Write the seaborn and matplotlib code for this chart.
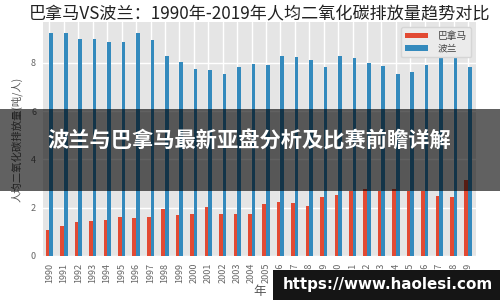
import matplotlib
matplotlib.use("Agg")
import matplotlib.pyplot as plt
import seaborn as sns
import pandas as pd
from matplotlib.patches import Rectangle

years = ["1990", "1991", "1992", "1993", "1994", "1995", "1996", "1997", "1998", "1999",
         "2000", "2001", "2002", "2003", "2004", "2005", "2006", "2007", "2008", "2009",
         "2010", "2011", "2012", "2013", "2014", "2015", "2016", "2017", "2018", "2019"]
panama = [1.09, 1.24, 1.42, 1.45, 1.50, 1.60, 1.58, 1.63, 1.96, 1.68,
          1.74, 2.02, 1.72, 1.72, 1.72, 2.16, 2.23, 2.18, 2.08, 2.44,
          2.54, 2.70, 2.79, 2.68, 2.77, 2.71, 2.68, 2.48, 2.43, 3.16]
poland = [9.23, 9.23, 9.00, 8.98, 8.86, 8.86, 9.25, 8.96, 8.27, 8.03,
          7.76, 7.71, 7.56, 7.84, 7.95, 7.93, 8.27, 8.25, 8.13, 7.83,
          8.29, 8.20, 8.00, 7.88, 7.55, 7.63, 7.93, 8.28, 8.27, 7.81]
countries = ["巴拿马", "波兰"]
title = "巴拿马VS波兰：1990年-2019年人均二氧化碳排放量趋势对比"
banner = "波兰与巴拿马最新亚盘分析及比赛前瞻详解"
watermark = "https://www.haolesi.com"

df = pd.DataFrame({
    "年": years + years,
    "value": panama + poland,
    "country": [countries[0]] * len(years) + [countries[1]] * len(years),
})

sns.set_style("darkgrid", {"axes.facecolor": "#E5E5E5", "grid.color": "white"})
plt.rcParams["font.family"] = ["Noto Sans CJK SC", "DejaVu Sans"]

fig = plt.figure(figsize=(5, 3), dpi=100)
ax = fig.add_axes([0.086, 0.147, 0.866, 0.78])
sns.barplot(data=df, x="年", y="value", hue="country",
            palette=["#E24A33", "#348ABD"], width=0.5, gap=0,
            saturation=1, linewidth=0, ax=ax)

ax.set_xlim(-0.45, 29.55)
ax.set_ylim(0, 9.7)
ax.set_yticks([0, 2, 4, 6, 8])
ax.grid(True, axis="both", color="white", linewidth=1)
ax.set_axisbelow(True)
ax.tick_params(axis="both", length=3, width=0.8, color="#666666",
               labelsize=6.5, labelcolor="#666666", pad=2)
ax.tick_params(axis="x", labelrotation=90)
ax.set_ylabel("人均二氧化碳排放量(吨/人)", fontsize=7.5, color="#555555", labelpad=6)
ax.set_xlabel("年", fontsize=9, color="#555555", labelpad=1)
for s in ax.spines.values():
    s.set_visible(False)

leg = ax.legend(loc="upper right", fontsize=7, title=None, handlelength=2.4,
                handleheight=0.45, labelspacing=0.3, frameon=True,
                facecolor="#EBEBEB", edgecolor="#D5D5D5", framealpha=1,
                borderaxespad=0.5, handletextpad=1.0)
for t in leg.get_texts():
    t.set_color("#444444")

fig.text(0.52, 1 - 14 / 300, title, ha="center", va="center",
         fontsize=12.3, color="#222222")

# overlay banner
fig.add_artist(Rectangle((0, 1 - 191 / 300), 1, 82 / 300, transform=fig.transFigure,
                         facecolor="black", alpha=0.62, edgecolor="none", zorder=10))
fig.text(0.498, 1 - 141 / 300, banner, ha="center", va="center", color="white",
         fontsize=15.3, fontweight="bold", zorder=11)

# watermark
fig.add_artist(Rectangle((273 / 500, 0), 227 / 500, 30 / 300, transform=fig.transFigure,
                         facecolor="#151515", edgecolor="none", zorder=10))
fig.text(0.775, 15 / 300, watermark, ha="center", va="center", color="white",
         fontsize=10.9, fontweight="bold", family=["DejaVu Sans"], zorder=11)

fig.savefig("out.png", dpi=100)
